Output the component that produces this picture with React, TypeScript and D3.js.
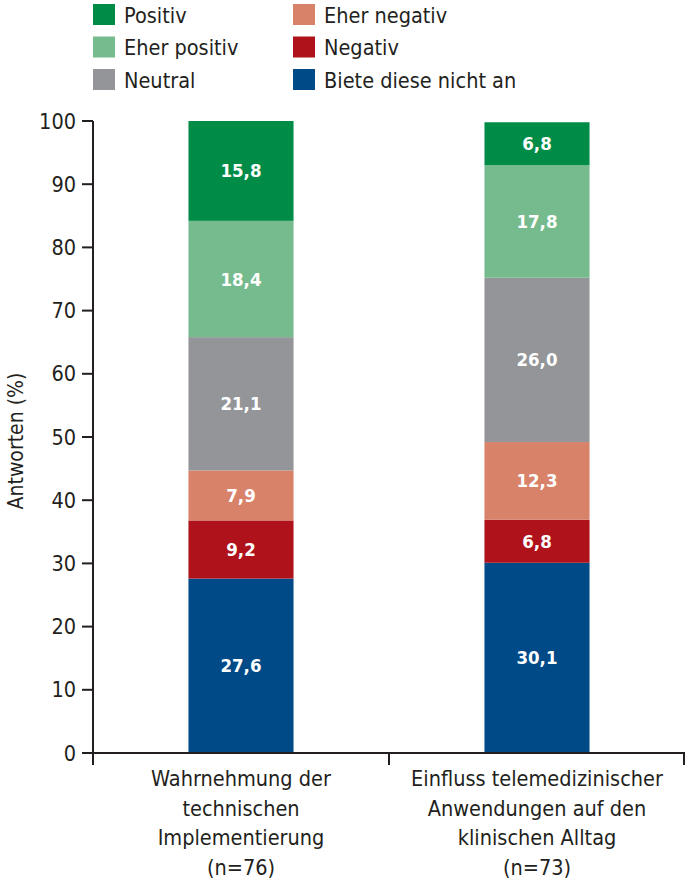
import React from "react";
import * as d3 from "d3";

const categories = [
  ["Wahrnehmung der", "technischen", "Implementierung", "(n=76)"],
  ["Einfluss telemedizinischer", "Anwendungen auf den", "klinischen Alltag", "(n=73)"],
];
const seriesNames = ["Biete diese nicht an", "Negativ", "Eher negativ", "Neutral", "Eher positiv", "Positiv"];
const seriesColors = ["#004a87", "#b0121b", "#d8826a", "#939598", "#76bb8d", "#008c47"];
const valuesCat1 = [27.6, 9.2, 7.9, 21.1, 18.4, 15.8];
const valuesCat2 = [30.1, 6.8, 12.3, 26.0, 17.8, 6.8];
const yTicks = [0, 10, 20, 30, 40, 50, 60, 70, 80, 90, 100];
const legendOrder = ["Positiv", "Eher positiv", "Neutral", "Eher negativ", "Negativ", "Biete diese nicht an"];

const FONT = "'DejaVu Sans Condensed', 'Liberation Sans Narrow', sans-serif";

export default function App() {
  const W = 685, H = 891;
  const x0 = 93, x1 = 685, yTop = 121, yBot = 753;
  const x = d3.scaleBand<number>().domain([0, 1]).range([x0, x1]).paddingInner(0.645).paddingOuter(0.3225);
  const y = d3.scaleLinear().domain([0, 100]).range([yBot, yTop]);
  const allVals = [valuesCat1, valuesCat2];
  const stacks = allVals.map((vals) => {
    let c = 0;
    return vals.map((v, i) => {
      const s = { i, v, y0: c, y1: c + v };
      c += v;
      return s;
    });
  });
  const step = (x1 - x0) / 2;
  const fmt = (v: number) => v.toFixed(1).replace(".", ",");
  return (
    <svg width={W} height={H} style={{ position: "absolute", left: 0, top: 0, background: "#fff" }} fontFamily={FONT}>
      {/* legend */}
      {legendOrder.map((name, k) => {
        const col = Math.floor(k / 3);
        const row = k % 3;
        const lx = col === 0 ? 93 : 293;
        const ly = 4 + row * 32.5;
        const color = seriesColors[seriesNames.indexOf(name)];
        return (
          <g key={name}>
            <rect x={lx} y={ly} width={22} height={21} fill={color} />
            <text x={lx + 31} y={ly + 11} dominantBaseline="central" fontSize={21.5} fill="#231f20">{name}</text>
          </g>
        );
      })}
      {/* bars */}
      {stacks.map((st, ci) => (
        <g key={ci}>
          {st.map((s) => (
            <g key={s.i}>
              <rect x={x(ci)!} width={x.bandwidth()} y={y(s.y1)} height={y(s.y0) - y(s.y1)} fill={seriesColors[s.i]} />
              <text x={x(ci)! + x.bandwidth() / 2} y={(y(s.y0) + y(s.y1)) / 2} textAnchor="middle" dominantBaseline="central" fill="#fff" fontSize={18.5} fontWeight="bold">{fmt(s.v)}</text>
            </g>
          ))}
        </g>
      ))}
      {/* y axis */}
      <line x1={x0} x2={x0} y1={y(100)} y2={yBot + 12} stroke="#231f20" strokeWidth={2} />
      {yTicks.map((t) => (
        <g key={t}>
          <line x1={x0 - 11} x2={x0} y1={y(t)} y2={y(t)} stroke="#231f20" strokeWidth={2} />
          <text x={x0 - 17} y={y(t)} textAnchor="end" dominantBaseline="central" fontSize={21.5} fill="#231f20">{t}</text>
        </g>
      ))}
      <text transform={`translate(16,${(yTop + yBot) / 2 + 4}) rotate(-90)`} textAnchor="middle" dominantBaseline="central" fontSize={21} fill="#231f20">Antworten (%)</text>
      {/* x axis */}
      <line x1={x0 - 11} x2={x1} y1={yBot} y2={yBot} stroke="#231f20" strokeWidth={2} />
      {[0, 1, 2].map((k) => (
        <line key={k} x1={x0 + k * step - (k === 2 ? 1 : 0)} x2={x0 + k * step - (k === 2 ? 1 : 0)} y1={yBot} y2={yBot + 12} stroke="#231f20" strokeWidth={2} />
      ))}
      {categories.map((lines, ci) => (
        <text key={ci} textAnchor="middle" fontSize={21.5} fill="#231f20">
          {lines.map((ln, li) => (
            <tspan key={li} x={x(ci)! + x.bandwidth() / 2} y={786 + li * 29.5}>{ln}</tspan>
          ))}
        </text>
      ))}
    </svg>
  );
}
